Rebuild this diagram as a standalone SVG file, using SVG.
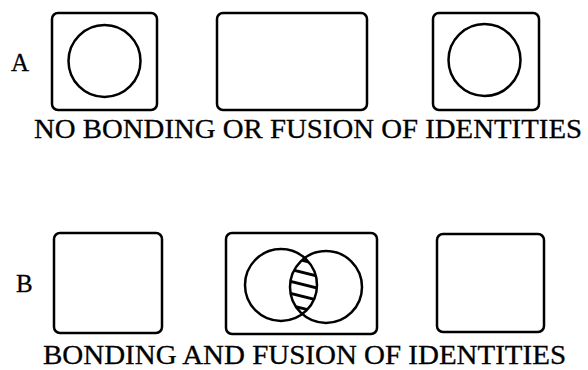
<svg xmlns="http://www.w3.org/2000/svg" width="588" height="370" viewBox="0 0 588 370">
<style>
.box{fill:none;stroke:#000;stroke-width:2.5}
.c{fill:none;stroke:#000;stroke-width:2.5}
.h{stroke:#000;stroke-width:3}
text{font-family:'Liberation Serif','DejaVu Serif',serif;fill:#000;stroke:#000;stroke-width:0.3}
</style>
<defs>
<clipPath id="cL"><circle cx="281" cy="285" r="36"/></clipPath>
<clipPath id="cR"><circle cx="326" cy="287" r="36"/></clipPath>
</defs>
<rect width="588" height="370" fill="#fff"/>
<g id="rowA">
<text x="11" y="71" font-size="25" font-family="'Liberation Serif', serif">A</text>
<g id="a1"><rect class="box" x="52" y="13" width="105" height="97" rx="6"/><circle class="c" cx="104.5" cy="61" r="36"/></g>
<g id="a2"><rect class="box" x="217" y="13" width="150" height="97" rx="6"/></g>
<g id="a3"><rect class="box" x="433" y="13" width="106" height="97" rx="6"/><circle class="c" cx="484.5" cy="60" r="36"/></g>
<text x="34" y="138" font-size="27" font-family="'Liberation Serif', serif" textLength="548" lengthAdjust="spacingAndGlyphs">NO BONDING OR FUSION OF IDENTITIES</text>
</g>
<g id="rowB">
<text x="16" y="292" font-size="25" font-family="'Liberation Serif', serif">B</text>
<g id="b1"><rect class="box" x="54" y="233" width="108" height="100" rx="6"/></g>
<g id="b2"><rect class="box" x="226" y="233" width="151" height="101" rx="6"/>
<g clip-path="url(#cL)"><g clip-path="url(#cR)">
<line class="h" x1="285" y1="256" x2="325" y2="266"/>
<line class="h" x1="285" y1="268" x2="325" y2="278"/>
<line class="h" x1="285" y1="280" x2="325" y2="290"/>
<line class="h" x1="285" y1="292" x2="325" y2="302"/>
<line class="h" x1="285" y1="304" x2="325" y2="314"/>
</g></g>
<circle class="c" cx="281" cy="285" r="36"/><circle class="c" cx="326" cy="287" r="36"/></g>
<g id="b3"><rect class="box" x="437" y="234" width="107" height="98" rx="6"/></g>
<text x="43" y="364" font-size="27" font-family="'Liberation Serif', serif" textLength="523" lengthAdjust="spacingAndGlyphs">BONDING AND FUSION OF IDENTITIES</text>
</g>
</svg>
